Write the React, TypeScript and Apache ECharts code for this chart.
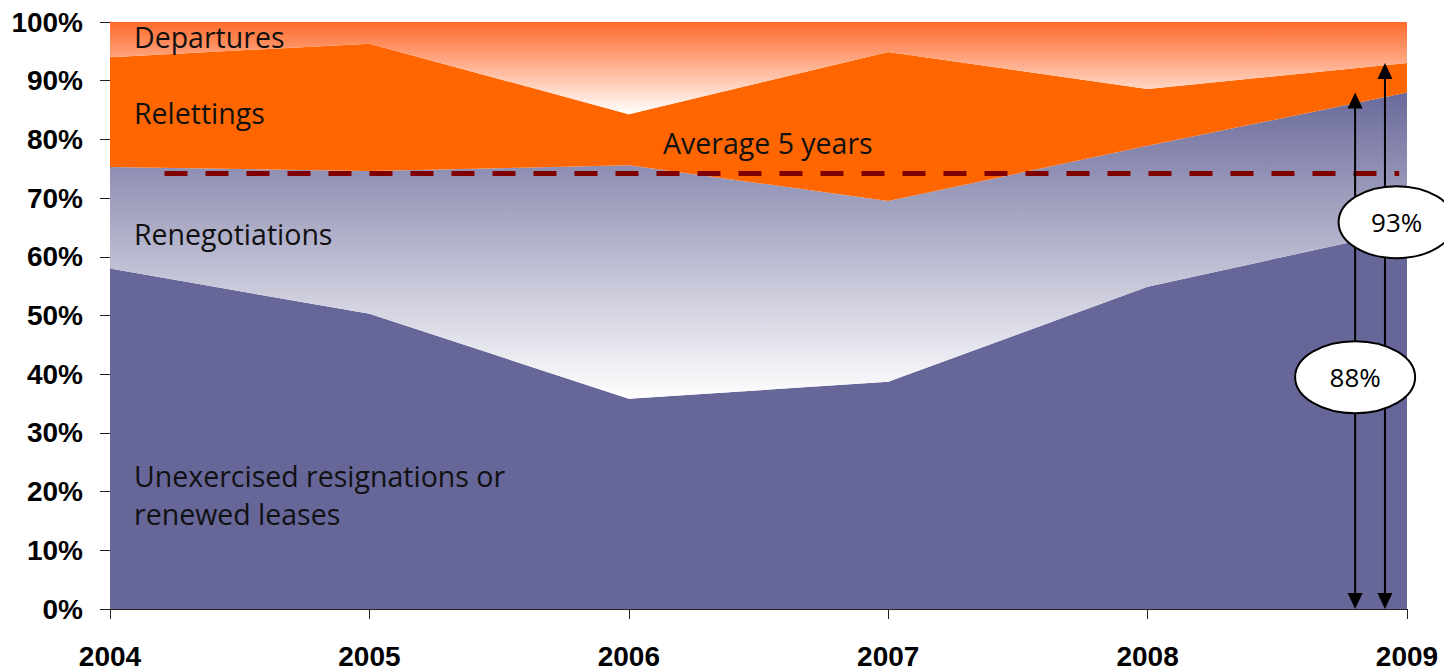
import React, { useEffect, useRef } from "react";
import * as echarts from "echarts";

// Share of leases by outcome, per year (percent of total, stacked to 100)
const years = ["2004", "2005", "2006", "2007", "2008", "2009"];
const unexercised = [58.0, 50.3, 35.8, 38.7, 54.9, 64.6];
const renegotiations = [17.3, 24.3, 39.8, 30.8, 24.0, 23.4];
const relettings = [18.7, 21.7, 8.7, 25.4, 9.7, 5.0];
const departures = [6.0, 3.7, 15.7, 5.1, 11.4, 7.0];

// Five-year average retention and the span (in years) the reference line covers
const fiveYearAverage = 74.2;
const averageSpan = [2004.21, 2008.97];

// Bracketing arrows on the last year
const arrowRetainedX = 2008.8;
const arrowTotalX = 2008.915;

const yTicks = { min: 0, max: 100, interval: 10 };

const PURPLE = "#666699";
const ORANGE = "#FF6600";
const LABEL_FONT = "'Open Sans', sans-serif";
const AXIS_FONT = "'Liberation Sans', Arial, sans-serif";

export default function App() {
  const ref = useRef<HTMLDivElement>(null);

  useEffect(() => {
    if (!ref.current) return;
    const chart = echarts.init(ref.current, undefined, { renderer: "svg" });

    const axisLineColor = "#222";
    const firstYear = Number(years[0]);
    const lastYear = Number(years[years.length - 1]);

    const area = (name: string, data: number[], color: any) => ({
      name,
      type: "line",
      stack: "total",
      xAxisIndex: 0,
      data,
      showSymbol: false,
      symbol: "none",
      lineStyle: { width: 0 },
      areaStyle: { color, opacity: 1 },
      z: 2,
    });

    chart.setOption({
      animation: false,
      backgroundColor: "#fff",
      grid: { left: 110, right: 37, top: 22, bottom: 63 },
      xAxis: [
        {
          type: "category",
          data: years,
          boundaryGap: false,
          axisLine: { show: true, lineStyle: { color: axisLineColor, width: 1 } },
          axisTick: { show: true, length: 10, lineStyle: { color: axisLineColor } },
          splitLine: { show: false },
          axisLabel: {
            margin: 33,
            color: "#000",
            fontFamily: AXIS_FONT,
            fontWeight: "bold",
            fontSize: 28,
          },
        },
        {
          // continuous year scale for the average line and annotations
          type: "value",
          min: firstYear,
          max: lastYear,
          show: false,
          position: "bottom",
        },
      ],
      yAxis: {
        type: "value",
        min: yTicks.min,
        max: yTicks.max,
        interval: yTicks.interval,
        axisLine: { show: true, lineStyle: { color: axisLineColor, width: 1 } },
        axisTick: { show: true, length: 10, lineStyle: { color: axisLineColor } },
        splitLine: { show: false },
        axisLabel: {
          margin: 27,
          color: "#000",
          fontFamily: AXIS_FONT,
          fontWeight: "bold",
          fontSize: 28,
          formatter: (v: number) => `${v}%`,
        },
      },
      series: [
        area("Unexercised resignations or renewed leases", unexercised, PURPLE),
        area(
          "Renegotiations",
          renegotiations,
          new echarts.graphic.LinearGradient(0, 0, 0, 1, [
            { offset: 0, color: "#6A6A9B" },
            { offset: 1, color: "#FFFFFF" },
          ])
        ),
        area("Relettings", relettings, ORANGE),
        area(
          "Departures",
          departures,
          new echarts.graphic.LinearGradient(0, 0, 0, 1, [
            { offset: 0, color: "#FF6A2B" },
            { offset: 1, color: "#FFFFFF" },
          ])
        ),
        {
          name: "Average 5 years",
          type: "line",
          xAxisIndex: 1,
          data: averageSpan.map((x) => [x, fiveYearAverage]),
          showSymbol: false,
          symbol: "none",
          lineStyle: { color: "#800000", width: 5, type: [23, 18] },
          z: 5,
        },
      ],
    });

    // Annotations anchored to data coordinates
    const px = (x: number, y: number) =>
      chart.convertToPixel({ xAxisIndex: 1, yAxisIndex: 0 }, [x, y]) as number[];
    const last = years.length - 1;
    const retained = unexercised[last] + renegotiations[last];
    const total = retained + relettings[last];

    const arrow = (x: number, top: number) => {
      const a = px(x, top);
      const b = px(x, 0);
      const head = 16;
      const half = 7.5;
      return [
        {
          type: "line",
          z: 50,
          shape: { x1: a[0], y1: a[1] + head - 2, x2: b[0], y2: b[1] - head + 2 },
          style: { stroke: "#000", lineWidth: 2 },
        },
        {
          type: "polygon",
          z: 50,
          shape: { points: [[a[0], a[1]], [a[0] - half, a[1] + head], [a[0] + half, a[1] + head]] },
          style: { fill: "#000" },
        },
        {
          type: "polygon",
          z: 50,
          shape: { points: [[b[0], b[1]], [b[0] - half, b[1] - head], [b[0] + half, b[1] - head]] },
          style: { fill: "#000" },
        },
      ];
    };

    const bubble = (cx: number, cy: number, rx: number, ry: number, text: string) => [
      {
        type: "ellipse",
        z: 60,
        shape: { cx, cy, rx, ry },
        style: { fill: "#fff", stroke: "#000", lineWidth: 2 },
      },
      {
        type: "text",
        z: 61,
        x: cx,
        y: cy,
        style: {
          text,
          fill: "#000",
          font: `26px ${LABEL_FONT}`,
          align: "center",
          verticalAlign: "middle",
        },
      },
    ];

    const retainedCenter = px(arrowRetainedX, 39.5);
    const totalCenter = px(lastYear - 0.04, 65.9);

    const label = (text: string, x: number, y: number) => ({
      type: "text",
      z: 40,
      x,
      y,
      style: {
        text,
        fill: "#111",
        font: `28.5px ${LABEL_FONT}`,
        verticalAlign: "middle",
        lineHeight: 38,
      },
    });

    chart.setOption({
      graphic: [
        label("Departures", 134, 37),
        label("Relettings", 134, 113),
        label("Average 5 years", 663, 143),
        label("Renegotiations", 134, 234),
        label("Unexercised resignations or\nrenewed leases", 134, 495),
        ...arrow(arrowRetainedX, retained),
        ...arrow(arrowTotalX, total),
        ...bubble(retainedCenter[0], retainedCenter[1], 60, 36, `${Math.round(retained)}%`),
        ...bubble(totalCenter[0], totalCenter[1], 58, 36, `${Math.round(total)}%`),
      ],
    });

    return () => chart.dispose();
  }, []);

  return (
    <div
      ref={ref}
      style={{ position: "fixed", left: 0, top: 0, width: 1444, height: 672 }}
    />
  );
}
